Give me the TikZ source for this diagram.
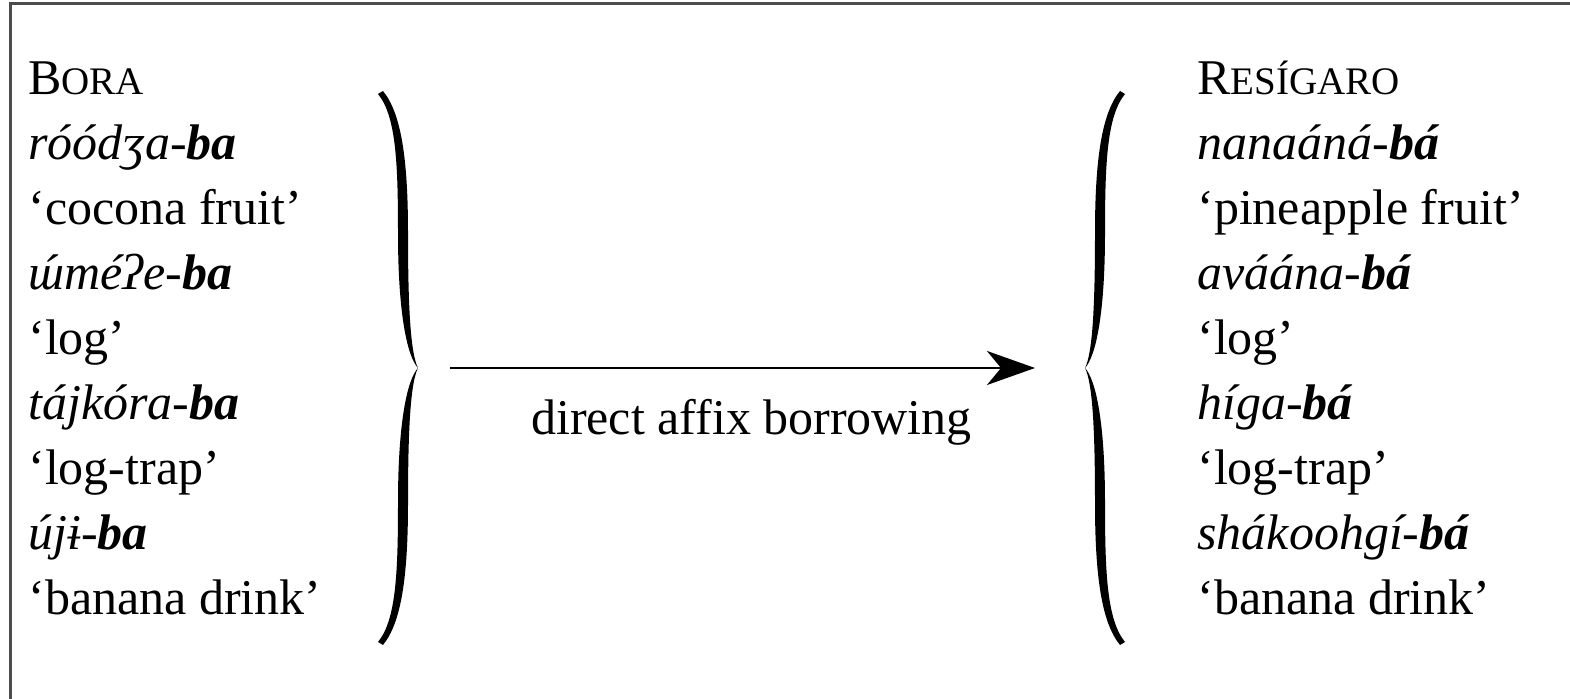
\documentclass[tikz,border=0pt]{standalone}
\usepackage{fontspec}
\setmainfont{Liberation Serif}
\usetikzlibrary{arrows.meta}

\newcommand{\FS}{\fontsize{25}{28.75}\selectfont}
\newcommand{\smc}[2]{#1{\fontsize{19.5}{20}\selectfont #2}}
\newcommand{\uacute}{\ooalign{ɯ\cr\hidewidth\kern0.12em ´\hidewidth\cr}}
% one half of a curly brace, tip at the origin
\newcommand{\bracearm}{(-40,-274) .. controls (-22,-252) and (-20,-205) .. (-20,-135)
  .. controls (-20,-55) and (-11,-12) .. (0,0)
  .. controls (-7,-14) and (-10,-55) .. (-10,-135)
  .. controls (-10,-210) and (-17,-255) .. (-35,-277) -- cycle}

\begin{document}
\begin{tikzpicture}[x=0.5pt,y=-0.5pt]
\tikzset{
  entry/.style={anchor=base west,inner sep=0pt,font=\FS},
  link/.style={-{Stealth[length=24pt,width=17pt,inset=7pt]},line width=1pt},
  frame/.style={black!70,line width=1.5pt},
  curly/.pic={\fill \bracearm; \fill[yscale=-1] \bracearm;}
}
\useasboundingbox (0,0) rectangle (1570,699);
\draw[frame] (10,699) |- (1570,4);

% left column
\foreach \txt [count=\i from 0] in {\smc{B}{ORA}, \textit{róódʒa-\textbf{ba}},
  ‘cocona fruit’, \textit{\uacute méʔe-\textbf{ba}}, ‘log’, \textit{tájkóra-\textbf{ba}},
  ‘log-trap’, \textit{újɨ-\textbf{ba}}, ‘banana drink’}
  \node[entry] (bora\i) at (28,{95+65*\i}) {\txt};

% right column
\foreach \txt [count=\i from 0] in {\smc{R}{ESÍGARO}, \textit{nanaáná-\textbf{bá}},
  ‘pineapple fruit’, \textit{aváána-\textbf{bá}}, ‘log’, \textit{híga-\textbf{bá}},
  ‘log-trap’, \textit{shákoohgí-\textbf{bá}}, ‘banana drink’}
  \node[entry] (res\i) at (1197,{95+65*\i}) {\txt};

\pic at (418,368) {curly};
\pic[xscale=-1] at (1085,368) {curly};
\coordinate (ltip) at (418,368);
\coordinate (rtip) at (1085,368);

\draw[link,shorten <=16pt,shorten >=25pt] (ltip) -- node[below=15pt,inner sep=0pt,font=\FS,name=lbl] {direct affix borrowing} (rtip);
\end{tikzpicture}
\end{document}
